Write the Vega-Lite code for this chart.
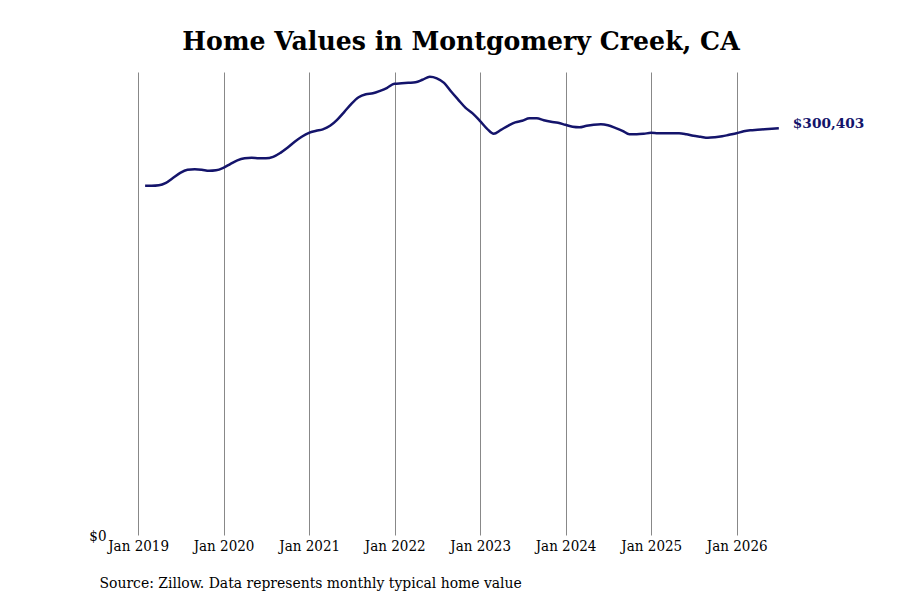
{
  "$schema": "https://vega.github.io/schema/vega-lite/v6.json",
  "width": 670,
  "height": 463,
  "autosize": {"type": "none"},
  "padding": {"left": 110, "top": 72, "right": 120, "bottom": 65},
  "background": "white",
  "title": {
    "text": "Home Values in Montgomery Creek, CA",
    "font": "DejaVu Serif",
    "fontSize": 25.2,
    "fontWeight": "bold",
    "color": "black",
    "anchor": "middle",
    "dx": 16,
    "offset": 17
  },
  "config": {
    "view": {"stroke": null},
    "font": "DejaVu Serif Condensed"
  },
  "data": {
    "values": [
      {"date": "2019-01-31", "value": 257911},
      {"date": "2019-02-28", "value": 257911},
      {"date": "2019-03-31", "value": 258281},
      {"date": "2019-04-30", "value": 260128},
      {"date": "2019-05-31", "value": 263823},
      {"date": "2019-06-30", "value": 267518},
      {"date": "2019-07-31", "value": 269735},
      {"date": "2019-08-31", "value": 270105},
      {"date": "2019-09-30", "value": 269735},
      {"date": "2019-10-31", "value": 268996},
      {"date": "2019-11-30", "value": 269366},
      {"date": "2019-12-31", "value": 271213},
      {"date": "2020-01-31", "value": 274169},
      {"date": "2020-02-29", "value": 276756},
      {"date": "2020-03-31", "value": 278234},
      {"date": "2020-04-30", "value": 278603},
      {"date": "2020-05-31", "value": 278234},
      {"date": "2020-06-30", "value": 278234},
      {"date": "2020-07-31", "value": 279342},
      {"date": "2020-08-31", "value": 282298},
      {"date": "2020-09-30", "value": 285993},
      {"date": "2020-10-31", "value": 290427},
      {"date": "2020-11-30", "value": 294122},
      {"date": "2020-12-31", "value": 297078},
      {"date": "2021-01-31", "value": 298556},
      {"date": "2021-02-28", "value": 299665},
      {"date": "2021-03-31", "value": 302251},
      {"date": "2021-04-30", "value": 306685},
      {"date": "2021-05-31", "value": 312597},
      {"date": "2021-06-30", "value": 318509},
      {"date": "2021-07-31", "value": 323313},
      {"date": "2021-08-31", "value": 325530},
      {"date": "2021-09-30", "value": 326269},
      {"date": "2021-10-31", "value": 328116},
      {"date": "2021-11-30", "value": 330333},
      {"date": "2021-12-31", "value": 333289},
      {"date": "2022-01-31", "value": 333659},
      {"date": "2022-02-28", "value": 334028},
      {"date": "2022-03-31", "value": 334398},
      {"date": "2022-04-30", "value": 336245},
      {"date": "2022-05-31", "value": 338462},
      {"date": "2022-06-30", "value": 337354},
      {"date": "2022-07-31", "value": 334028},
      {"date": "2022-08-31", "value": 327377},
      {"date": "2022-09-30", "value": 321465},
      {"date": "2022-10-31", "value": 315553},
      {"date": "2022-11-30", "value": 311489},
      {"date": "2022-12-31", "value": 305946},
      {"date": "2023-01-31", "value": 300034},
      {"date": "2023-02-28", "value": 296339},
      {"date": "2023-03-31", "value": 299295},
      {"date": "2023-04-30", "value": 302251},
      {"date": "2023-05-31", "value": 304838},
      {"date": "2023-06-30", "value": 305946},
      {"date": "2023-07-31", "value": 307794},
      {"date": "2023-08-31", "value": 307794},
      {"date": "2023-09-30", "value": 306316},
      {"date": "2023-10-31", "value": 305207},
      {"date": "2023-11-30", "value": 304468},
      {"date": "2023-12-31", "value": 302990},
      {"date": "2024-01-31", "value": 301512},
      {"date": "2024-02-29", "value": 301143},
      {"date": "2024-03-31", "value": 302251},
      {"date": "2024-04-30", "value": 302990},
      {"date": "2024-05-31", "value": 303360},
      {"date": "2024-06-30", "value": 302621},
      {"date": "2024-07-31", "value": 300773},
      {"date": "2024-08-31", "value": 298556},
      {"date": "2024-09-30", "value": 295970},
      {"date": "2024-10-31", "value": 295970},
      {"date": "2024-11-30", "value": 296339},
      {"date": "2024-12-31", "value": 297078},
      {"date": "2025-01-31", "value": 296709},
      {"date": "2025-02-28", "value": 296709},
      {"date": "2025-03-31", "value": 296709},
      {"date": "2025-04-30", "value": 296709},
      {"date": "2025-05-31", "value": 295970},
      {"date": "2025-06-30", "value": 294861},
      {"date": "2025-07-31", "value": 294122},
      {"date": "2025-08-31", "value": 293383},
      {"date": "2025-09-30", "value": 293753},
      {"date": "2025-10-31", "value": 294492},
      {"date": "2025-11-30", "value": 295600},
      {"date": "2025-12-31", "value": 296709},
      {"date": "2026-01-31", "value": 298187},
      {"date": "2026-02-28", "value": 298926},
      {"date": "2026-03-31", "value": 299295},
      {"date": "2026-04-30", "value": 299665},
      {"date": "2026-05-31", "value": 300034},
      {"date": "2026-06-30", "value": 300403}
    ]
  },
  "encoding": {
    "x": {
      "field": "date",
      "type": "temporal",
      "scale": {"domain": ["2018-09-03", "2026-07-05"]},
      "axis": {
        "values": ["2019-01-01", "2020-01-01", "2021-01-01", "2022-01-01", "2023-01-01", "2024-01-01", "2025-01-01", "2026-01-01"],
        "format": "%b %Y",
        "grid": true,
        "gridColor": "#888888",
        "gridWidth": 1,
        "gridOpacity": 1,
        "ticks": false,
        "domain": false,
        "labelFont": "DejaVu Serif Condensed",
        "labelFontSize": 15,
        "labelColor": "black",
        "labelPadding": 3,
        "title": "Source: Zillow. Data represents monthly typical home value",
        "titleFont": "DejaVu Serif Condensed",
        "titleFontSize": 15.5,
        "titleFontWeight": "normal",
        "titleColor": "black",
        "titleAnchor": "start",
        "titleAlign": "left",
        "titleX": -11,
        "titleY": 52,
        "titleBaseline": "alphabetic"
      }
    },
    "y": {
      "field": "value",
      "type": "quantitative",
      "scale": {"domain": [0, 342000], "nice": false},
      "axis": {
        "values": [0],
        "format": "$,.0f",
        "grid": false,
        "ticks": false,
        "domain": false,
        "labelFont": "DejaVu Serif Condensed",
        "labelFontSize": 15,
        "labelColor": "black",
        "labelPadding": 4,
        "title": null
      }
    }
  },
  "layer": [
    {
      "mark": {"type": "line", "color": "#14146b", "strokeWidth": 2.5, "interpolate": "monotone"}
    },
    {
      "transform": [{"filter": "year(datum.date) == 2026 && month(datum.date) == 5"}],
      "mark": {
        "type": "text",
        "align": "left",
        "baseline": "middle",
        "dx": 14,
        "dy": -4,
        "font": "DejaVu Serif",
        "fontSize": 13.7,
        "fontWeight": "bold",
        "color": "#14146b"
      },
      "encoding": {
        "text": {"field": "value", "type": "quantitative", "format": "$,.0f"}
      }
    }
  ]
}
